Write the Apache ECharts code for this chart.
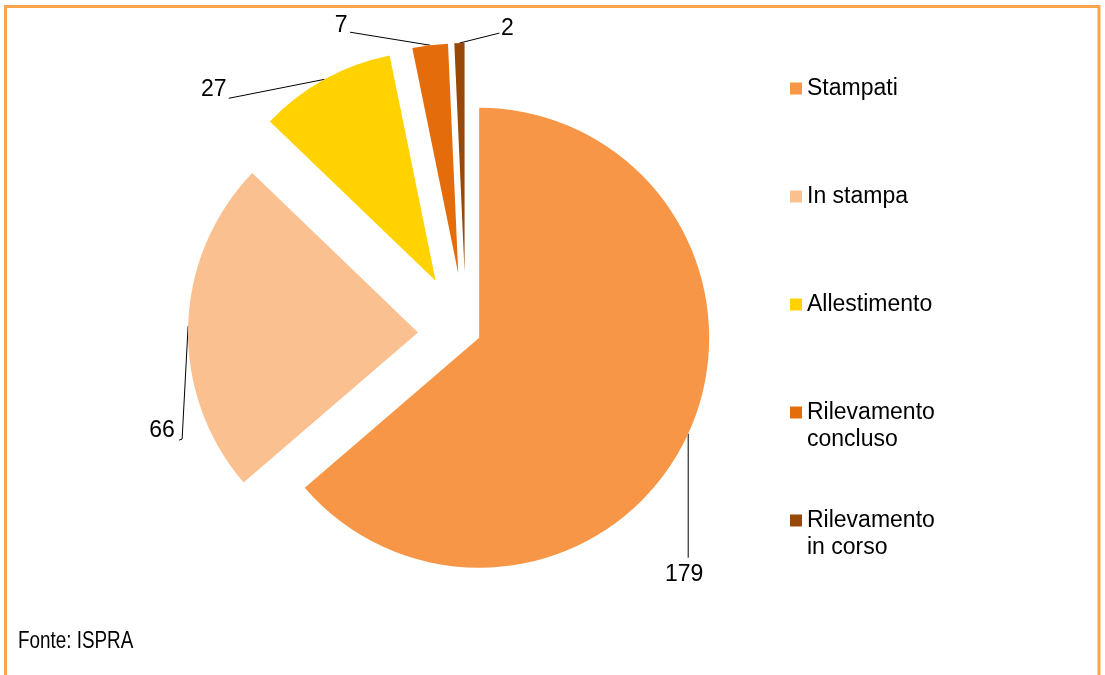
<!DOCTYPE html>
<html>
<head>
<meta charset="utf-8">
<title>Pie</title>
<script src="https://cdn.jsdelivr.net/npm/echarts@6/dist/echarts.min.js"></script>
<style>
    html, body { margin: 0; padding: 0; background: #fff; }
    #main { width: 1105px; height: 675px; }
</style>
</head>
<body>
<div id="main"></div>
<script>
    // dati
    var categories = ['Stampati', 'In stampa', 'Allestimento', 'Rilevamento\nconcluso', 'Rilevamento\nin corso'];
    var values = [179, 66, 27, 7, 2];
    var colors = ['#F79646', '#FAC090', '#FFD200', '#E46C0A', '#984807'];

    // spicchi esplosi: gruppi con distanza diversa
    var explodeGroups = [
        {members: [0], offset: 9, center: [471, 334]},
        {members: [1], offset: 53, center: [471, 334]},
        {members: [2, 3, 4], offset: 63, center: [466, 336]}
    ];

    // centro etichetta (cx, cy) e linea guida, rispetto al punto sull'arco
    var labelPlacement = [
        {cx: -4, cy: 141, line: [[0, 124]]},
        {cx: -26, cy: 105, line: [[-6, 113], [-9, 114]]},
        {cx: -111, cy: 10, line: [[-96, 19]]},
        {cx: -89, cy: -20, line: [[-80, -13]]},
        {cx: 48, cy: -14, line: [[40, -10]]}
    ];

    var FONT = 'Liberation Sans, Arial, sans-serif';
    var myChart = echarts.init(document.getElementById('main'));

    function buildSeries(group) {
        var data = [];
        for (var i = 0; i < categories.length; i++) {
            var inGroup = group.members.indexOf(i) >= 0;
            data.push({
                name: categories[i],
                value: values[i],
                selected: inGroup,
                itemStyle: {color: inGroup ? colors[i] : 'rgba(0,0,0,0)'},
                label: {show: inGroup},
                labelLine: {show: inGroup}
            });
        }
        return {
            type: 'pie',
            center: group.center,
            radius: 230,
            startAngle: 90,
            clockwise: true,
            selectedMode: 'multiple',
            selectedOffset: group.offset,
            avoidLabelOverlap: false,
            silent: true,
            animation: false,
            itemStyle: {borderWidth: 0},
            emphasis: {disabled: true},
            label: {
                show: true,
                position: 'outside',
                formatter: '{c}',
                color: '#000',
                fontSize: 23,
                fontFamily: FONT
            },
            labelLine: {show: true, lineStyle: {color: '#000', width: 1}},
            labelLayout: function (params) {
                var p = params.labelLinePoints;
                if (!p) return {};
                var s = p[0];
                var o = labelPlacement[params.dataIndex];
                var pts = [[s[0], s[1]]];
                o.line.forEach(function (q) { pts.push([s[0] + q[0], s[1] + q[1]]); });
                var r = params.labelRect;
                return {
                    dx: s[0] + o.cx - (r.x + r.width / 2),
                    dy: s[1] + o.cy - (r.y + r.height / 2),
                    labelLinePoints: pts
                };
            },
            data: data
        };
    }

    var legendData = categories.map(function (c, i) {
        var twoLines = c.indexOf('\n') >= 0;
        return {
            name: c,
            itemStyle: {color: colors[i]},
            textStyle: {padding: twoLines ? [0, 0, 0, 0] : [27, 0, 27, 0]}
        };
    });

    var option = {
        animation: false,
        legend: {
            orient: 'vertical',
            left: 785,
            top: 43,
            icon: 'rect',
            itemWidth: 12,
            itemHeight: 12,
            itemGap: 27,
            selectedMode: false,
            // prima riga allineata al quadratino
            formatter: function (name) {
                return name.indexOf('\n') >= 0 ? '\u00a0\n' + name : name;
            },
            textStyle: {color: '#000', fontSize: 23, lineHeight: 27, fontFamily: FONT},
            data: legendData
        },
        graphic: [
            {
                type: 'rect',
                shape: {x: 5.5, y: 6.5, width: 1093.5, height: 700},
                style: {fill: 'none', stroke: '#F9A54B', lineWidth: 3},
                silent: true
            },
            {
                type: 'text',
                x: 18,
                y: 642,
                scaleX: 0.82,
                style: {text: 'Fonte: ISPRA', font: '23px Liberation Sans', fill: '#000', verticalAlign: 'middle'},
                silent: true
            }
        ],
        series: explodeGroups.map(buildSeries)
    };
    myChart.setOption(option);
</script>
</body>
</html>
